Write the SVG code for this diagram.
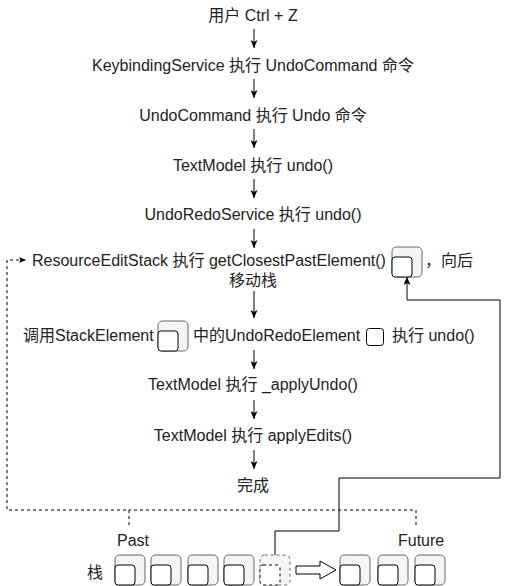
<svg xmlns="http://www.w3.org/2000/svg" width="508" height="586" viewBox="0 0 508 586">
<style>
text{font-family:"Liberation Sans","Noto Sans CJK SC",sans-serif;font-size:16px;fill:#222}
.c{text-anchor:middle}
.outer{fill:#f5f5f5;stroke:#666;stroke-width:1}
.inner{fill:#fff;stroke:#000;stroke-width:1}
.edge{fill:none;stroke:#000;stroke-width:1}
.dash{stroke-dasharray:3 3}
</style>
<defs>
<marker id="arr" viewBox="0 0 8 7" refX="8" refY="3.5" markerWidth="8" markerHeight="7" markerUnits="userSpaceOnUse" orient="auto">
<path d="M0,0 L8,3.5 L0,7 L2,3.5 z" fill="#000"/>
</marker>
<marker id="arrs" viewBox="0 0 7 6" refX="7" refY="3" markerWidth="7" markerHeight="6" markerUnits="userSpaceOnUse" orient="auto">
<path d="M0,0 L7,3 L0,6 L1.5,3 z" fill="#000"/>
</marker>
</defs>
<g id="connectors">
<path class="edge" d="M254,29 V48" marker-end="url(#arr)"/>
<path class="edge" d="M254,79 V98" marker-end="url(#arr)"/>
<path class="edge" d="M254,129 V148" marker-end="url(#arr)"/>
<path class="edge" d="M254,179 V198" marker-end="url(#arr)"/>
<path class="edge" d="M254,229 V248" marker-end="url(#arr)"/>
<path class="edge" d="M254,291 V318" marker-end="url(#arr)"/>
<path class="edge" d="M254,350 V369" marker-end="url(#arr)"/>
<path class="edge" d="M254,400 V419" marker-end="url(#arr)"/>
<path class="edge" d="M254,450 V469" marker-end="url(#arr)"/>
<path class="edge dash" d="M129,525 V510 H7 V260 H26" marker-end="url(#arrs)"/>
<path class="edge dash" d="M416,525 V510 H129"/>
<path class="edge" d="M275,555 V531 H339 V478 H500 V300 H407 V277" marker-end="url(#arr)"/>
</g>
<g id="n1"><text class="c" x="253" y="21">用户 Ctrl + Z</text></g>
<g id="n2"><text class="c" x="253" y="71">KeybindingService 执行 UndoCommand 命令</text></g>
<g id="n3"><text class="c" x="253" y="121">UndoCommand 执行 Undo 命令</text></g>
<g id="n4"><text class="c" x="253" y="171">TextModel 执行 undo()</text></g>
<g id="n5"><text class="c" x="253" y="220">UndoRedoService 执行 undo()</text></g>
<g id="n6">
<text x="32" y="266">ResourceEditStack 执行 getClosestPastElement()</text>
<rect class="outer" x="392" y="247" width="30" height="30" rx="4.5"/>
<rect class="inner" x="392" y="257" width="20" height="20" rx="3"/>
<text x="425" y="266">，向后</text>
<text class="c" x="253" y="286">移动栈</text>
</g>
<g id="n7">
<text x="23" y="341">调用StackElement</text>
<rect class="outer" x="158" y="321" width="30" height="30" rx="4.5"/>
<rect class="inner" x="158" y="331" width="20" height="20" rx="3"/>
<text x="193" y="341">中的UndoRedoElement</text>
<rect class="inner" x="366.5" y="328.5" width="17" height="17" rx="3"/>
<text x="392" y="341">执行 undo()</text>
</g>
<g id="n8"><text class="c" x="253" y="390">TextModel 执行 _applyUndo()</text></g>
<g id="n9"><text class="c" x="253" y="441">TextModel 执行 applyEdits()</text></g>
<g id="n10"><text class="c" x="253" y="491">完成</text></g>
<g id="past-label"><text x="117" y="546">Past</text></g>
<g id="future-label"><text x="398" y="546">Future</text></g>
<g id="stack-label"><text x="87" y="578">栈</text></g>
<g id="stack">
<rect class="outer" x="115" y="555" width="30" height="30" rx="4.5"/>
<rect class="inner" x="115" y="565" width="20" height="20" rx="3"/>
<rect class="outer" x="151" y="555" width="30" height="30" rx="4.5"/>
<rect class="inner" x="151" y="565" width="20" height="20" rx="3"/>
<rect class="outer" x="188" y="555" width="30" height="30" rx="4.5"/>
<rect class="inner" x="188" y="565" width="20" height="20" rx="3"/>
<rect class="outer" x="224" y="555" width="30" height="30" rx="4.5"/>
<rect class="inner" x="224" y="565" width="20" height="20" rx="3"/>
<rect class="outer dash" x="260" y="555" width="30" height="30" rx="4.5"/>
<rect class="inner dash" x="260" y="565" width="20" height="20" rx="3"/>
<path d="M296,566 H320 V561 L336,570 L320,579 V574 H296 Z" fill="#fff" stroke="#000" stroke-width="1"/>
<rect class="outer" x="340" y="555" width="30" height="30" rx="4.5"/>
<rect class="inner" x="340" y="565" width="20" height="20" rx="3"/>
<rect class="outer" x="378" y="555" width="30" height="30" rx="4.5"/>
<rect class="inner" x="378" y="565" width="20" height="20" rx="3"/>
<rect class="outer" x="415" y="555" width="30" height="30" rx="4.5"/>
<rect class="inner" x="415" y="565" width="20" height="20" rx="3"/>
</g>
</svg>
